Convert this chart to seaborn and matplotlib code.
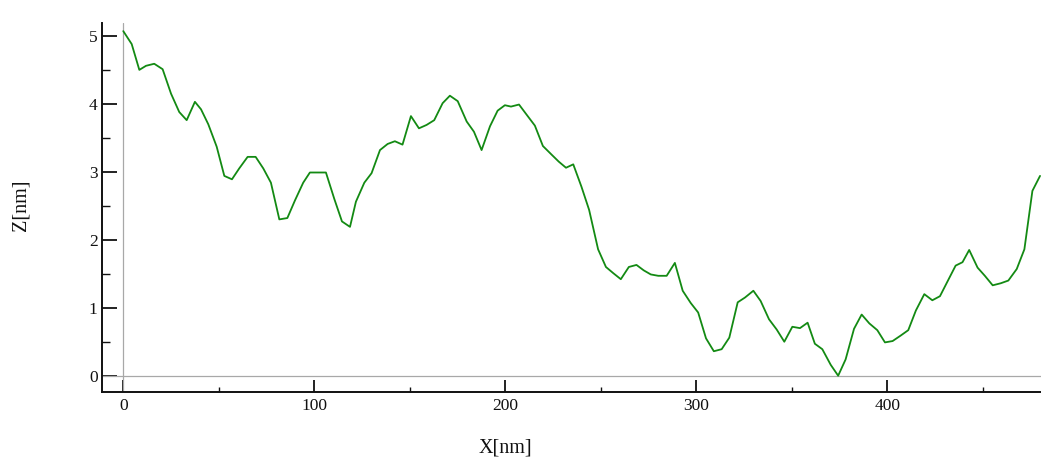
import numpy as np
import pandas as pd
import matplotlib
matplotlib.use("Agg")
import matplotlib.pyplot as plt
from matplotlib.ticker import MultipleLocator
import seaborn as sns

# Height profile along a scan line
x_nm = [0, 4.4, 8.4, 11.9, 16.2, 20.6, 25.0, 29.3, 33.2, 37.5,
        40.7, 44.5, 48.9, 52.9, 56.9, 60.7, 65.1, 69.3, 73.3, 77.3,
        81.7, 85.9, 89.9, 94.2, 97.7, 101.9, 106.1, 110.5, 114.5, 118.7,
        121.8, 126.2, 130.0, 134.4, 138.4, 142.2, 146.2, 150.6, 154.8, 158.8,
        162.8, 167.2, 171.0, 175.1, 179.8, 183.6, 187.6, 192.0, 196.0, 199.8,
        203.0, 207.2, 211.2, 215.5, 219.7, 224.0, 228.0, 231.8, 235.6, 239.9,
        243.9, 248.6, 252.7, 256.5, 260.5, 264.7, 268.7, 272.5, 276.2, 280.1,
        284.5, 288.8, 292.9, 297.1, 301.0, 305.1, 309.2, 313.3, 317.3, 321.7,
        325.5, 329.9, 333.7, 338.1, 342.1, 346.1, 350.3, 354.3, 358.3, 362.1,
        366.0, 370.4, 374.3, 378.2, 382.6, 386.6, 390.6, 394.8, 398.8, 402.8,
        407.0, 411.0, 415.0, 419.4, 423.6, 427.6, 431.6, 435.8, 439.4, 442.9,
        447.3, 451.1, 455.2, 459.4, 463.4, 467.8, 471.8, 476.0, 480.0]

z_nm = [5.07, 4.88, 4.50, 4.56, 4.59, 4.51, 4.15, 3.88, 3.76, 4.03,
        3.92, 3.70, 3.37, 2.94, 2.89, 3.05, 3.22, 3.22, 3.05, 2.84,
        2.30, 2.32, 2.58, 2.84, 2.99, 2.99, 2.99, 2.60, 2.27, 2.19,
        2.56, 2.84, 2.98, 3.32, 3.41, 3.45, 3.40, 3.82, 3.64, 3.69,
        3.76, 4.01, 4.12, 4.04, 3.74, 3.59, 3.32, 3.67, 3.90, 3.98,
        3.96, 3.99, 3.84, 3.68, 3.38, 3.26, 3.15, 3.06, 3.11, 2.78,
        2.44, 1.86, 1.60, 1.51, 1.42, 1.60, 1.63, 1.55, 1.49, 1.47,
        1.47, 1.66, 1.25, 1.07, 0.93, 0.55, 0.36, 0.39, 0.56, 1.08,
        1.15, 1.25, 1.10, 0.83, 0.68, 0.50, 0.72, 0.70, 0.78, 0.47,
        0.39, 0.16, 0.00, 0.24, 0.69, 0.90, 0.77, 0.67, 0.49, 0.51,
        0.59, 0.67, 0.96, 1.20, 1.11, 1.17, 1.39, 1.62, 1.67, 1.85,
        1.59, 1.47, 1.33, 1.36, 1.40, 1.57, 1.86, 2.72, 2.94]

x_ticks = [0, 100, 200, 300, 400]
z_ticks = [0, 1, 2, 3, 4, 5]

sns.set_style("ticks")
plt.rcParams["font.family"] = ["Liberation Serif", "DejaVu Serif"]

df = pd.DataFrame({"X": x_nm, "Z": z_nm})

ink = "#111111"

fig = plt.figure(figsize=(10.41, 4.57), dpi=100)
ax = fig.add_axes([0.0977, 0.1416, 0.9023, 0.8081])

# reference lines through the origin
ax.axhline(0, color="#a8a8a8", lw=0.9, zorder=1)
ax.axvline(0, color="#a8a8a8", lw=0.9, zorder=1)

sns.lineplot(data=df, x="X", y="Z", color="#138a13", lw=1.3, ax=ax, zorder=3)

ax.set_xlim(-11.3, 480.5)
ax.set_ylim(-0.244, 5.19)
ax.set_xticks(x_ticks)
ax.set_yticks(z_ticks)
ax.xaxis.set_minor_locator(MultipleLocator(50))
ax.yaxis.set_minor_locator(MultipleLocator(0.5))

for s in ("top", "right"):
    ax.spines[s].set_visible(False)
for s in ("left", "bottom"):
    ax.spines[s].set_linewidth(1.4)
    ax.spines[s].set_color(ink)

ax.tick_params(axis="x", which="major", direction="in", length=9.0, width=1.3,
               labelsize=12.5, pad=4, colors=ink)
ax.tick_params(axis="x", which="minor", direction="in", length=3.8, width=1.0,
               colors=ink)
ax.tick_params(axis="y", which="major", direction="in", length=10.8, width=1.3,
               labelsize=12.5, pad=3, colors=ink)
ax.tick_params(axis="y", which="minor", direction="in", length=5.8, width=1.0,
               colors=ink)

ax.set_xlabel("X[nm]", fontsize=14.5, color=ink)
ax.set_ylabel("Z[nm]", fontsize=14.5, color=ink)
ax.xaxis.set_label_coords(0.430, -0.124)
ax.yaxis.set_label_coords(-0.0763, 0.507)
ax.grid(False)

fig.savefig("out.png", dpi=100)
